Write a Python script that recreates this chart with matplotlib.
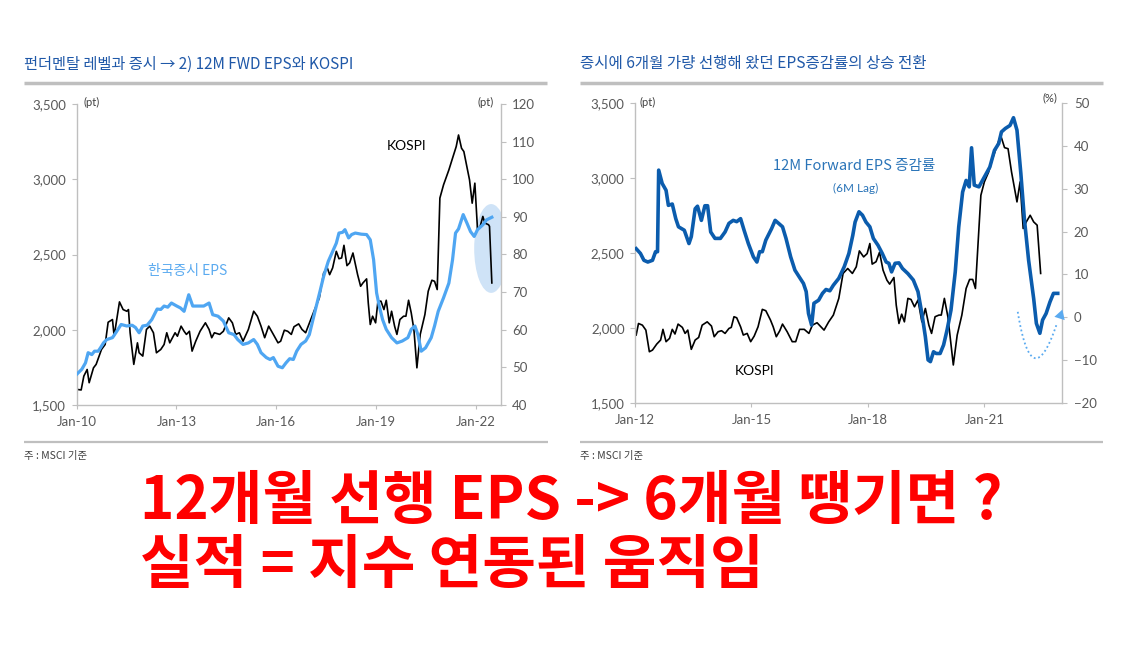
import matplotlib
matplotlib.use("Agg")
import matplotlib.pyplot as plt
from matplotlib.lines import Line2D
from matplotlib.patches import Ellipse
import numpy as np

plt.rcParams['font.family'] = ['Lato', 'Noto Sans CJK KR', 'DejaVu Sans']

# ---------------- Left panel data ----------------
left_title = "펀더멘탈 레벨과 증시 → 2) 12M FWD EPS와 KOSPI"
left_xticks = [2010, 2013, 2016, 2019, 2022]
left_xticklabels = ["Jan-10", "Jan-13", "Jan-16", "Jan-19", "Jan-22"]
left_yticks = [1500, 2000, 2500, 3000, 3500]
left_yticklabels = ["1,500", "2,000", "2,500", "3,000", "3,500"]
left_y2ticks = [40, 50, 60, 70, 80, 90, 100, 110, 120]

kospi_l_x = [2010.00, 2010.14, 2010.22, 2010.32, 2010.38, 2010.51, 2010.59, 2010.75, 2010.86, 2010.95,
             2011.08, 2011.13, 2011.29, 2011.40, 2011.51, 2011.56, 2011.61, 2011.72, 2011.83, 2011.88,
             2011.99, 2012.10, 2012.20, 2012.31, 2012.40, 2012.53, 2012.63, 2012.71, 2012.80, 2012.96,
             2013.03, 2013.14, 2013.23, 2013.30, 2013.39, 2013.47, 2013.58, 2013.71, 2013.87, 2013.98,
             2014.06, 2014.14, 2014.30, 2014.41, 2014.57, 2014.68, 2014.78, 2014.89, 2015.00, 2015.16,
             2015.32, 2015.43, 2015.54, 2015.65, 2015.77, 2015.91, 2016.05, 2016.13, 2016.24, 2016.34,
             2016.45, 2016.53, 2016.67, 2016.77, 2016.88, 2017.04, 2017.15, 2017.29, 2017.42, 2017.53,
             2017.60, 2017.69, 2017.80, 2017.88, 2017.96, 2018.03, 2018.12, 2018.20, 2018.30, 2018.44,
             2018.53, 2018.60, 2018.71, 2018.76, 2018.82, 2018.89, 2018.98, 2019.05, 2019.14, 2019.23,
             2019.30, 2019.39, 2019.46, 2019.55, 2019.62, 2019.71, 2019.82, 2019.89, 2019.97, 2020.05,
             2020.13, 2020.22, 2020.32, 2020.46, 2020.56, 2020.67, 2020.75, 2020.83, 2020.91, 2021.02,
             2021.18, 2021.29, 2021.40, 2021.47, 2021.56, 2021.63, 2021.72, 2021.80, 2021.88, 2021.96,
             2022.04, 2022.12, 2022.20, 2022.26, 2022.37, 2022.40, 2022.47]
kospi_l_y = [1604, 1600, 1692, 1736, 1648, 1747, 1770, 1869, 1902, 2050,
             2068, 1957, 2185, 2134, 2123, 2134, 1980, 1770, 1913, 1847,
             1825, 2002, 2024, 1980, 1847, 1869, 1902, 1980, 1913, 1980,
             1957, 2024, 1990, 1969, 1990, 1858, 1924, 1990, 2046, 2002,
             1947, 1980, 1969, 1990, 2079, 2046, 1969, 1980, 1924, 2002,
             2123, 2090, 2024, 1947, 2024, 1969, 1913, 1924, 1997, 1990,
             1969, 2020, 2039, 2002, 1980, 2072, 2134, 2211, 2377, 2411,
             2366, 2411, 2521, 2472, 2477, 2561, 2426, 2444, 2510, 2366,
             2289, 2311, 2338, 2178, 2035, 2090, 2046, 2190, 2190, 2134,
             2196, 2046, 2123, 2024, 1969, 2068, 2090, 2090, 2196, 2112,
             2002, 1747, 1969, 2101, 2256, 2329, 2322, 2267, 2875, 2963,
             3062, 3140, 3217, 3294, 3206, 3184, 3084, 2996, 2841, 2974,
             2665, 2687, 2753, 2709, 2698, 2687, 2311]

eps_l_x = [2010.00, 2010.16, 2010.27, 2010.35, 2010.46, 2010.54, 2010.65, 2010.72, 2010.81, 2010.91,
           2011.08, 2011.18, 2011.34, 2011.51, 2011.67, 2011.77, 2011.88, 2011.99, 2012.12, 2012.26,
           2012.42, 2012.53, 2012.63, 2012.74, 2012.85, 2013.01, 2013.12, 2013.23, 2013.37, 2013.49,
           2013.66, 2013.82, 2013.98, 2014.09, 2014.25, 2014.41, 2014.57, 2014.73, 2014.84, 2015.00,
           2015.16, 2015.32, 2015.43, 2015.54, 2015.70, 2015.81, 2015.91, 2016.05, 2016.18, 2016.29,
           2016.40, 2016.51, 2016.61, 2016.74, 2016.88, 2016.99, 2017.10, 2017.20, 2017.31, 2017.42,
           2017.56, 2017.69, 2017.80, 2017.88, 2017.99, 2018.06, 2018.17, 2018.26, 2018.37, 2018.55,
           2018.71, 2018.82, 2018.92, 2019.01, 2019.09, 2019.19, 2019.30, 2019.46, 2019.62, 2019.78,
           2019.95, 2020.05, 2020.16, 2020.25, 2020.35, 2020.48, 2020.65, 2020.75, 2020.86, 2021.02,
           2021.18, 2021.29, 2021.38, 2021.47, 2021.61, 2021.72, 2021.83, 2021.94, 2022.04, 2022.20,
           2022.31, 2022.47]
eps_l_y = [48.1, 49.5, 51.2, 53.9, 53.4, 54.3, 54.3, 55.2, 56.5, 57.4,
           57.9, 59.2, 61.4, 61.0, 61.2, 60.6, 59.2, 61.0, 61.2, 62.7,
           65.5, 65.4, 66.3, 66.0, 67.1, 66.3, 65.8, 64.9, 69.3, 66.3,
           66.3, 66.3, 67.1, 64.0, 63.6, 62.3, 59.2, 58.7, 57.4, 56.1,
           56.5, 57.4, 56.1, 53.9, 52.6, 52.1, 52.6, 50.3, 49.9, 51.2,
           52.3, 52.1, 54.3, 56.1, 57.0, 58.7, 62.7, 66.3, 70.2, 74.2,
           78.2, 80.8, 83.0, 85.7, 85.9, 86.6, 84.4, 85.3, 85.7, 85.4,
           85.3, 83.9, 78.6, 69.8, 66.3, 62.7, 60.1, 57.9, 56.5, 57.0,
           57.9, 60.1, 61.0, 58.7, 54.3, 55.2, 57.9, 61.0, 64.9, 68.5,
           72.4, 78.6, 85.7, 86.8, 90.6, 88.4, 86.1, 84.8, 86.6, 87.9,
           89.2, 89.9]

# ---------------- Right panel data ----------------
right_title = "증시에 6개월 가량 선행해 왔던 EPS증감률의 상승 전환"
right_xticks = [2012, 2015, 2018, 2021]
right_xticklabels = ["Jan-12", "Jan-15", "Jan-18", "Jan-21"]
right_yticks = [1500, 2000, 2500, 3000, 3500]
right_yticklabels = ["1,500", "2,000", "2,500", "3,000", "3,500"]
right_y2ticks = [-20, -10, 0, 10, 20, 30, 40, 50]

kospi_r_x = [2012.03, 2012.09, 2012.19, 2012.28, 2012.37, 2012.45, 2012.56, 2012.66, 2012.72, 2012.80,
             2012.89, 2012.96, 2013.03, 2013.11, 2013.22, 2013.29, 2013.36, 2013.45, 2013.55, 2013.64,
             2013.73, 2013.86, 2013.97, 2014.04, 2014.14, 2014.23, 2014.32, 2014.42, 2014.48, 2014.55,
             2014.62, 2014.72, 2014.79, 2014.89, 2014.98, 2015.07, 2015.17, 2015.28, 2015.37, 2015.49,
             2015.56, 2015.64, 2015.73, 2015.80, 2015.92, 2016.05, 2016.14, 2016.24, 2016.36, 2016.48,
             2016.57, 2016.69, 2016.87, 2016.99, 2017.11, 2017.25, 2017.36, 2017.48, 2017.60, 2017.70,
             2017.78, 2017.89, 2017.98, 2018.05, 2018.11, 2018.21, 2018.30, 2018.39, 2018.49, 2018.56,
             2018.67, 2018.73, 2018.80, 2018.87, 2018.94, 2019.03, 2019.11, 2019.20, 2019.29, 2019.39,
             2019.48, 2019.57, 2019.64, 2019.73, 2019.83, 2019.89, 2019.97, 2020.06, 2020.20, 2020.30,
             2020.42, 2020.53, 2020.62, 2020.70, 2020.77, 2020.91, 2021.00, 2021.11, 2021.21, 2021.30,
             2021.42, 2021.52, 2021.61, 2021.70, 2021.77, 2021.84, 2021.92, 2022.00, 2022.08, 2022.18,
             2022.27, 2022.36, 2022.45]
kospi_r_y = [1954, 2031, 2020, 1987, 1843, 1854, 1894, 1921, 1992, 1910,
             1932, 1992, 1961, 2027, 2005, 1965, 1987, 1859, 1921, 1938,
             2020, 2042, 2014, 1943, 1976, 1983, 1965, 1998, 2005, 2076,
             2069, 2009, 1954, 1965, 1910, 1947, 2009, 2125, 2116, 2054,
             2009, 1943, 1983, 2027, 1976, 1910, 1910, 1992, 1992, 1965,
             2020, 2036, 1987, 2042, 2087, 2198, 2364, 2397, 2364, 2408,
             2514, 2474, 2496, 2563, 2426, 2442, 2505, 2386, 2319, 2293,
             2337, 2153, 2031, 2093, 2042, 2198, 2191, 2142, 2187, 2042,
             2131, 2020, 1965, 2076, 2087, 2087, 2198, 2076, 1755, 1954,
             2087, 2264, 2324, 2324, 2264, 2884, 2973, 3039, 3128, 3194,
             3283, 3201, 3194, 3039, 2940, 2840, 2973, 2663, 2707, 2751,
             2707, 2685, 2364]

epsg_r_x = [2012.03, 2012.14, 2012.23, 2012.33, 2012.45, 2012.53, 2012.58, 2012.61, 2012.70, 2012.80,
            2012.86, 2012.96, 2013.05, 2013.12, 2013.27, 2013.39, 2013.45, 2013.55, 2013.61, 2013.71,
            2013.80, 2013.87, 2013.95, 2014.06, 2014.20, 2014.32, 2014.42, 2014.53, 2014.62, 2014.72,
            2014.81, 2014.92, 2015.05, 2015.14, 2015.21, 2015.28, 2015.37, 2015.52, 2015.61, 2015.70,
            2015.80, 2015.89, 2016.01, 2016.12, 2016.24, 2016.34, 2016.41, 2016.47, 2016.55, 2016.61,
            2016.73, 2016.83, 2016.92, 2017.02, 2017.11, 2017.25, 2017.39, 2017.51, 2017.61, 2017.67,
            2017.77, 2017.86, 2017.95, 2018.05, 2018.14, 2018.26, 2018.37, 2018.47, 2018.54, 2018.61,
            2018.70, 2018.80, 2018.89, 2019.03, 2019.17, 2019.29, 2019.39, 2019.48, 2019.55, 2019.61,
            2019.69, 2019.76, 2019.86, 2019.95, 2020.04, 2020.14, 2020.25, 2020.34, 2020.44, 2020.53,
            2020.61, 2020.67, 2020.74, 2020.86, 2021.00, 2021.14, 2021.26, 2021.37, 2021.44, 2021.54,
            2021.66, 2021.75, 2021.84, 2021.94, 2022.03, 2022.14, 2022.27, 2022.34, 2022.43, 2022.50,
            2022.59, 2022.69, 2022.78, 2022.89]
epsg_r_y = [16.0, 14.9, 13.3, 12.9, 13.3, 15.3, 15.3, 34.3, 31.2, 29.6,
            26.1, 26.4, 23.0, 21.1, 20.3, 17.2, 18.8, 25.3, 25.9, 22.6,
            26.0, 26.0, 19.9, 18.4, 18.4, 19.9, 21.9, 22.6, 22.3, 23.0,
            20.3, 17.2, 14.1, 12.9, 15.3, 15.3, 18.0, 20.7, 22.6, 21.9,
            21.1, 18.4, 14.1, 11.0, 9.3, 7.9, 6.0, 0.9, -1.8, 3.3,
            4.0, 5.6, 6.5, 6.2, 7.5, 9.1, 11.8, 14.9, 19.1, 22.2,
            24.6, 23.8, 22.2, 21.1, 18.4, 16.8, 14.9, 12.9, 12.6, 10.6,
            12.6, 12.7, 11.4, 10.2, 8.7, 6.0, 0.9, -4.5, -9.9, -10.3,
            -8.0, -8.4, -8.4, -6.4, -2.9, 1.7, 10.6, 21.1, 29.2, 31.9,
            30.4, 39.5, 30.8, 30.4, 32.7, 35.0, 38.9, 40.5, 43.2, 44.0,
            44.7, 46.5, 43.6, 33.5, 23.0, 13.3, 4.4, -1.4, -3.7, -0.6,
            0.9, 3.6, 5.6, 5.6]

footnote = "주 : MSCI 기준"
headline1 = "12개월 선행 EPS -> 6개월 땡기면 ?"
headline2 = "실적 = 지수 연동된 움직임"

# ---------------- Styling ----------------
W, H = 1141, 653
TITLE_C = "#1f58a8"
TICK_C = "#595959"
SPINE_C = "#bfbfbf"
LIGHT_BLUE = "#4fa6f2"
DARK_BLUE = "#0b5cad"
CJK = ['Noto Sans CJK KR', 'DejaVu Sans']

fig = plt.figure(figsize=(W / 100, H / 100), dpi=100)


def fx(px):
    return px / W


def fy(py):
    return 1 - py / H


def hline(x0, x1, y, lw, color=SPINE_C):
    fig.add_artist(Line2D([fx(x0), fx(x1)], [fy(y), fy(y)], transform=fig.transFigure,
                          color=color, lw=lw, solid_capstyle='butt'))


def style_axes(ax, ax2):
    for s in ['top', 'right']:
        ax.spines[s].set_visible(False)
    for s in ['top', 'left', 'bottom']:
        ax2.spines[s].set_visible(False)
    ax.spines['left'].set_color(SPINE_C)
    ax.spines['bottom'].set_color(SPINE_C)
    ax2.spines['right'].set_color(SPINE_C)
    for a in (ax, ax2):
        for sp in a.spines.values():
            sp.set_linewidth(1.0)
    ax.tick_params(axis='y', colors=SPINE_C, labelcolor=TICK_C, labelsize=9.5, length=3.5, pad=4)
    ax.tick_params(axis='x', colors=SPINE_C, labelcolor=TICK_C, labelsize=9.5, length=3, pad=5)
    ax2.tick_params(axis='y', colors=SPINE_C, labelcolor=TICK_C, labelsize=9.5, length=3.5, pad=5)


# ---------------- Left panel ----------------
axL = fig.add_axes([fx(76.5), fy(405), fx(500.5) - fx(76.5), fy(104) - fy(405)])
axL2 = axL.twinx()
axL.set_xlim(2010.0, 2022.73)
axL.set_ylim(1500, 3500)
axL2.set_ylim(40, 120)
axL.set_xticks(left_xticks)
axL.set_xticklabels(left_xticklabels)
axL.set_yticks(left_yticks)
axL.set_yticklabels(left_yticklabels)
axL2.set_yticks(left_y2ticks)
style_axes(axL, axL2)

axL.add_patch(Ellipse((2022.45, 2540), 1.02, 590, facecolor="#cfe3f7", edgecolor='none', zorder=0))
axL.plot(kospi_l_x, kospi_l_y, color='black', lw=1.2, zorder=2)
axL2.plot(eps_l_x, eps_l_y, color=LIGHT_BLUE, lw=2.3, zorder=3)
axL.text(2019.92, 3222, "KOSPI", ha='center', va='center', fontsize=10, color='black')
axL.text(2013.33, 2388, "한국증시 EPS", ha='center', va='center', fontsize=10,
         color="#5aaaf0", family=CJK)

fig.text(fx(83), fy(102), "(pt)", fontsize=8, color='#404040', ha='left', va='center')
fig.text(fx(494), fy(102), "(pt)", fontsize=8, color='#404040', ha='right', va='center')

fig.text(fx(24), fy(64), left_title, fontsize=11, color=TITLE_C, ha='left', va='center', family=CJK)
hline(24, 547, 83.3, 2.5)
hline(24, 548, 441.7, 1.6)
fig.text(fx(24), fy(456), footnote, fontsize=7.5, color='#404040', ha='left', va='center', family=CJK)

# ---------------- Right panel ----------------
axR = fig.add_axes([fx(635), fy(403.3), fx(1062) - fx(635), fy(102.7) - fy(403.3)])
axR2 = axR.twinx()
axR.set_xlim(2012.0, 2023.0)
axR.set_ylim(1500, 3500)
axR2.set_ylim(-20, 50)
axR.set_xticks(right_xticks)
axR.set_xticklabels(right_xticklabels)
axR.set_yticks(right_yticks)
axR.set_yticklabels(right_yticklabels)
axR2.set_yticks(right_y2ticks)
style_axes(axR, axR2)

axR.plot(kospi_r_x, kospi_r_y, color='black', lw=1.2, zorder=2)
axR2.plot(epsg_r_x, epsg_r_y, color=DARK_BLUE, lw=2.6, zorder=3)
axR2.text(2017.65, 35.2, "12M Forward EPS 증감률", ha='center', va='center', fontsize=10.5,
          color="#2a74b8", family=CJK)
axR2.text(2017.69, 30.0, "(6M Lag)", ha='center', va='center', fontsize=8.5, color="#2a74b8")
axR.text(2015.09, 1715, "KOSPI", ha='center', va='center', fontsize=10, color='black')

# dotted curved arrow (annotation)
p0 = np.array([2021.86, 1.3])
p2 = np.array([2022.99, 2.1])
pb = np.array([2022.34, -9.5])
c = 2 * pb - 0.5 * (p0 + p2)
t = np.linspace(0, 1, 60)[:, None]
curve = (1 - t) ** 2 * p0 + 2 * (1 - t) * t * c + t ** 2 * p2
axR2.plot(curve[:-5, 0], curve[:-5, 1], color="#5aaaf0", lw=1.3, ls=(0, (1, 1.5)), zorder=4,
          clip_on=False)
fig.canvas.draw()
d_end = axR2.transData.transform(p2)
d_prev = axR2.transData.transform(curve[-8])
ang = np.degrees(np.arctan2(d_end[1] - d_prev[1], d_end[0] - d_prev[0])) - 90
tip = curve[-3]
axR2.plot([tip[0]], [tip[1]], marker=(3, 0, ang), markersize=9, color="#5aaaf0",
          markeredgewidth=0, zorder=5, clip_on=False)

fig.text(fx(640), fy(102), "(pt)", fontsize=8, color='#404040', ha='left', va='center')
fig.text(fx(1057), fy(98), "(%)", fontsize=8, color='#404040', ha='right', va='center')

fig.text(fx(580), fy(63), right_title, fontsize=11.2, color=TITLE_C, ha='left', va='center', family=CJK)
hline(580, 1103, 83.3, 2.5)
hline(580, 1103, 441.7, 1.6)
fig.text(fx(580), fy(456), footnote, fontsize=7.5, color='#404040', ha='left', va='center', family=CJK)

# ---------------- Big red headline ----------------
fig.text(fx(140), fy(502), headline1, fontsize=42, color='#ff0000', fontweight='bold',
         ha='left', va='center', family=CJK)
fig.text(fx(140), fy(566), headline2, fontsize=42, color='#ff0000', fontweight='bold',
         ha='left', va='center', family=CJK)

fig.savefig("out.png", dpi=100)
